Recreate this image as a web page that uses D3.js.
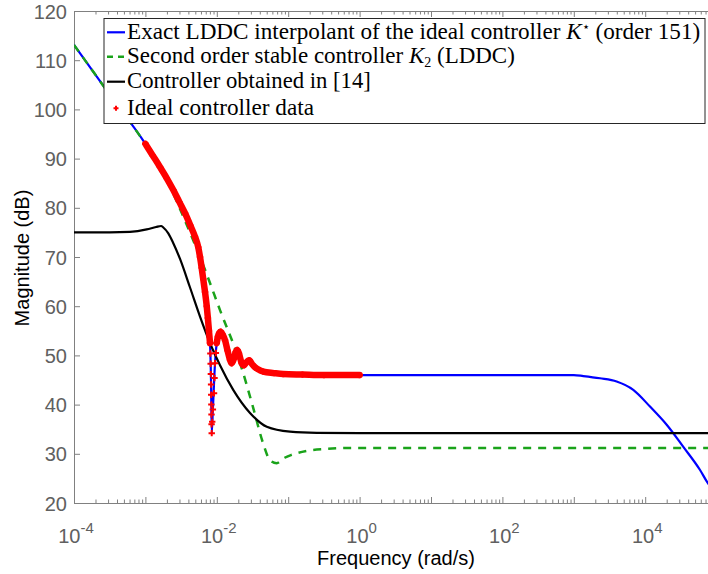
<!DOCTYPE html>
<html><head><meta charset="utf-8">
<script src="https://cdn.jsdelivr.net/npm/d3@7"></script>
<style>body{margin:0;background:#fff} svg{display:block}</style>
</head><body><svg id="c" width="708" height="574"></svg>
<script>
// ---- data ----
const idealFreq = [0.001,0.001259,0.0016,0.001995,0.00246,0.002985,0.003589,0.004266,0.004955,0.005495,0.005821,0.006138,0.006457,0.006839,0.007228,0.007499,0.007762,0.008035,
  0.008128,0.008204,0.00826,0.008318,0.008356,0.008395,0.008433,0.008453,0.008492,
  0.00863,0.00881,0.009141,0.00929,0.009441,0.009705,0.009977,
  0.010351,0.010839,0.011324,0.012023,0.013032,0.014125,0.015311,0.016181,0.017378,0.018408,0.019364,0.020417,0.022336,0.024044,0.026303,0.02851,0.031261,0.034277,0.039811,0.044771,0.063096,0.08531,0.158489,0.316228,1];
const idealMag = [93.0,90.7,88.3,86.0,83.6,81.2,78.9,76.4,74.1,72.0,70.0,67.8,65.5,62.9,60.0,57.6,55.0,52.5,
  50.4,48.3,46.2,44.1,42.0,40.0,38.0,36.0,34.2,
  36.5,39.0,42.3,45.4,48.4,50.5,52.5,
  53.8,54.6,54.8,54.3,53.1,51.0,49.1,48.4,49.3,50.7,51.1,50.4,48.4,48.0,48.7,49.0,48.2,47.6,47.0,46.7,46.4,46.2,46.1,46.0,46.0];

const exactFreq = [1e-4,3.162e-4,0.001,0.0016,0.00246,0.003589,0.004955,0.005821,0.006138,0.006457,0.006839,0.007228,0.007499,0.007762,0.008035,0.008318,0.008492,0.00881,0.009441,0.009977,
  0.010839,0.011324,0.013032,0.016181,0.019364,0.024044,0.02851,0.034277,0.044771,0.08531,1,100,1000,1358,2328,3981,6808,11668,19999,34198,58614,73451,100000];
const exactMag = [113.1,103.0,93.0,88.3,83.6,78.9,74.1,70.0,67.8,65.5,62.9,60.0,57.6,55.0,52.5,44.1,34.2,39.0,48.4,52.5,
  54.6,54.8,53.1,48.4,51.1,48.0,49.0,47.6,46.7,46.2,46.0,46.0,46.0,45.8,45.35,44.7,43.0,39.6,35.9,31.4,26.7,24.3,21.6];

const k2Freq = [1e-4,3.162e-4,0.001,0.002213,0.003396,0.006839,0.011092,0.021135,0.032137,0.044367,0.05559,0.069024,0.089125,0.111944,0.181552,0.345939,0.816582,10,100000];
const k2Mag = [113.1,103.0,92.9,84.3,78.2,67.4,59.2,48.5,39.5,32.2,28.7,28.1,29.2,29.8,30.6,31.0,31.2,31.2,31.2];

const refFreq = [1e-4,3.162e-4,6.081e-4,0.001042,0.001413,0.00166,0.001782,0.002094,0.00246,0.003055,0.004217,0.005821,0.008035,0.011092,0.016982,0.029174,0.050119,0.105925,0.251189,1,100000];
const refMag = [75.0,75.0,75.1,75.6,76.1,76.3,76.0,74.8,72.8,69.6,63.8,57.9,52.5,48.0,43.0,38.3,35.5,34.5,34.25,34.2,34.2];

const yTicks = [20,30,40,50,60,70,80,90,100,110,120];
const xDecades = [-4,-2,0,2,4];
const legendLabels = ["Exact LDDC interpolant of the ideal controller ", "Second order stable controller ", "Controller obtained in [14]", "Ideal controller data"];

// ---- drawing ----
const W=708,H=574;
const L=74,T=11,R=716.6,B=503;
const x=d3.scaleLog().domain([1e-4,1e5]).range([L,R]);
const y=d3.scaleLinear().domain([20,120]).range([B,T]);
const svg=d3.select('#c');
svg.append('rect').attr('width',W).attr('height',H).attr('fill','#fff');
svg.append('clipPath').attr('id','clip').append('rect').attr('x',L).attr('y',T).attr('width',R-L).attr('height',B-T);

const axisCol='#808080', labCol='#606060';
// minor ticks
const minor=[];
for(let e=-4;e<5;e++) for(let k=2;k<=9;k++) minor.push(k*Math.pow(10,e));
const major=d3.range(-4,6).map(e=>Math.pow(10,e));
function styleAxis(g){ g.selectAll('path,line').attr('stroke',axisCol); g.selectAll('text').remove(); }
svg.append('g').attr('transform',`translate(0,${B})`).call(d3.axisBottom(x).tickValues(minor).tickSize(-3.5).tickSizeOuter(0)).call(styleAxis);
svg.append('g').attr('transform',`translate(0,${B})`).call(d3.axisBottom(x).tickValues(major).tickSize(-6).tickSizeOuter(0)).call(styleAxis);
svg.append('g').attr('transform',`translate(0,${T})`).call(d3.axisTop(x).tickValues(minor).tickSize(-3.5).tickSizeOuter(0)).call(styleAxis);
svg.append('g').attr('transform',`translate(0,${T})`).call(d3.axisTop(x).tickValues(major).tickSize(-6).tickSizeOuter(0)).call(styleAxis);
const ya=svg.append('g').attr('transform',`translate(${L},0)`).call(d3.axisLeft(y).tickValues(yTicks).tickSize(-6).tickSizeOuter(0).tickPadding(7));
ya.select('.domain').attr('stroke',axisCol);
ya.selectAll('line').attr('stroke',axisCol);
ya.selectAll('text').attr('fill',labCol).attr('font-family','Liberation Sans, Arial, sans-serif').attr('font-size',20).attr('dy','0.35em');

// x tick labels with superscripts
const xl=svg.append('g');
xDecades.forEach(e=>{
  const t=xl.append('text').attr('x',x(Math.pow(10,e))+2).attr('y',543).attr('text-anchor','middle')
    .attr('fill',labCol).attr('font-family','Liberation Sans, Arial, sans-serif').attr('font-size',20);
  t.append('tspan').text('10');
  t.append('tspan').attr('dy',-10).attr('font-size',15).text(String(e));
});

// axis titles
svg.append('text').attr('x',396).attr('y',565).attr('text-anchor','middle').attr('font-family','Liberation Sans, Arial, sans-serif').attr('font-size',20).attr('fill','#000').text('Frequency  (rad/s)');
svg.append('text').attr('transform','translate(29,258) rotate(-90)').attr('text-anchor','middle').attr('font-family','Liberation Sans, Arial, sans-serif').attr('font-size',20).attr('fill','#000').text('Magnitude (dB)');

// curves
const pts=(f,m)=>f.map((v,i)=>({f:v,m:m[i]}));
const line=d3.line().x(d=>x(d.f)).y(d=>y(d.m)).curve(d3.curveMonotoneX);
const plot=svg.append('g').attr('clip-path','url(#clip)');
plot.append('path').datum(pts(exactFreq,exactMag)).attr('d',line).attr('fill','none').attr('stroke','#0000ff').attr('stroke-width',2.2);
plot.append('path').datum(pts(k2Freq,k2Mag)).attr('d',line).attr('fill','none').attr('stroke','#1aa31a').attr('stroke-width',2.5).attr('stroke-dasharray','8,7');
plot.append('path').datum(pts(refFreq,refMag)).attr('d',line).attr('fill','none').attr('stroke','#000').attr('stroke-width',2.2);
const ideal=pts(idealFreq,idealMag);
const band=d3.line().x(d=>x(d.f)).y(d=>y(d.m)).curve(d3.curveMonotoneX).defined(d=>d.m>=52||d.f>=0.0099);
plot.append('path').datum(ideal).attr('d',band).attr('fill','none').attr('stroke','#ff0000').attr('stroke-width',6.5).attr('stroke-linecap','round').attr('stroke-linejoin','round');
const plus='M-3.2,0H3.2M0,-3.2V3.2';
plot.selectAll('.mk').data(ideal).enter().append('path').attr('class','mk')
  .attr('transform',d=>`translate(${x(d.f)},${y(d.m)})`).attr('d',plus).attr('stroke','#ff0000').attr('stroke-width',2);

// legend
const lg=svg.append('g');
lg.append('rect').attr('x',104).attr('y',18.5).attr('width',601).attr('height',105).attr('fill','#fff').attr('stroke','#262626').attr('stroke-width',1);
const rows=[32.3,56.7,81.7,108.3];
const targets=[575,389,244,187];
lg.append('line').attr('x1',107).attr('x2',125).attr('y1',rows[0]).attr('y2',rows[0]).attr('stroke','#0000ff').attr('stroke-width',2.2);
lg.append('line').attr('x1',107).attr('x2',125).attr('y1',rows[1]).attr('y2',rows[1]).attr('stroke','#1aa31a').attr('stroke-width',2.5).attr('stroke-dasharray','6,5');
lg.append('line').attr('x1',107).attr('x2',125).attr('y1',rows[2]).attr('y2',rows[2]).attr('stroke','#000').attr('stroke-width',2.2);
lg.append('path').attr('transform',`translate(116,${rows[3]})`).attr('d','M-2.5,0H2.5M0,-2.5V2.5').attr('stroke','#ff0000').attr('stroke-width',2);
const ser='Liberation Serif, Times New Roman, serif';
rows.forEach((ry,i)=>{
  const t=lg.append('text').attr('x',127).attr('y',ry+6.5).attr('font-family',ser).attr('font-size',20).attr('fill','#000');
  t.append('tspan').text(legendLabels[i]);
  if(i===0){ t.append('tspan').attr('font-style','italic').text('K'); t.append('tspan').attr('dy',-8).attr('font-size',13).text('\u22C6'); t.append('tspan').attr('dy',8).text(' (order 151)'); }
  if(i===1){ t.append('tspan').attr('font-style','italic').text('K'); t.append('tspan').attr('dy',4).attr('font-size',14).text('2'); t.append('tspan').attr('dy',-4).text(' (LDDC)'); }
  const w=t.node().getComputedTextLength();
  const fs=20*targets[i]/w;
  t.attr('font-size',fs);
});
</script></body></html>
